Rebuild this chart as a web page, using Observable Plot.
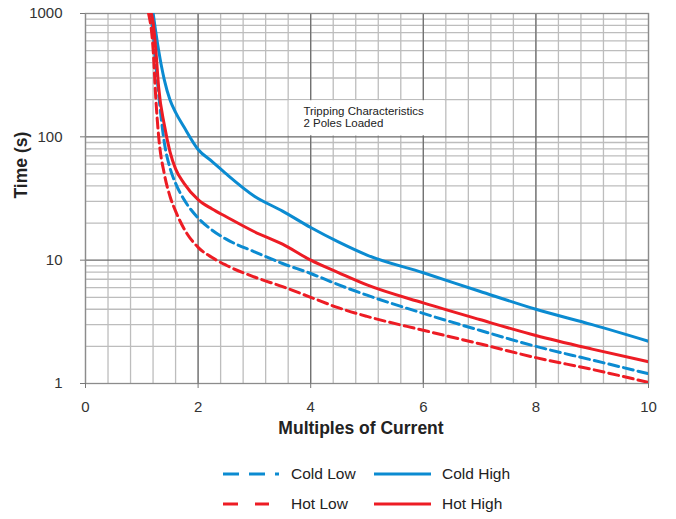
<!DOCTYPE html>
<html>
<head>
<meta charset="utf-8">
<script src="https://cdn.jsdelivr.net/npm/d3@7"></script>
<script src="https://cdn.jsdelivr.net/npm/@observablehq/plot@0.6"></script>
<style>
  body { margin: 0; background: #fff; }
  #wrap { width: 676px; height: 519px; position: relative; font-family: "Liberation Sans", Arial, sans-serif; }
</style>
</head>
<body>
<div id="wrap"></div>
<script>
// ---- data ----
const currents = [1.12, 1.2, 1.25, 1.3, 1.4, 1.5, 1.6, 1.75, 2, 2.25, 2.5, 3, 3.5, 4, 4.5, 5, 6, 7, 8, 9, 10];
const coldLow  = [1150, 700, 380, 220, 90, 56, 42, 31, 22, 17.5, 14.8, 11.7, 9.4, 7.8, 6.3, 5.2, 3.7, 2.7, 2.0, 1.55, 1.2];
const coldHigh = [2200, 1020, 700, 500, 290, 200, 158, 120, 79, 63, 50, 33, 25, 18.4, 14, 11, 7.9, 5.6, 4.0, 3.0, 2.2];
const hotLow   = [1000, 520, 200, 100, 50, 33, 25, 18, 12.7, 10.5, 9.1, 7.3, 6.1, 5.0, 4.1, 3.5, 2.7, 2.1, 1.62, 1.3, 1.02];
const hotHigh  = [1150, 850, 500, 250, 125, 76, 55, 42, 31, 26, 22.5, 17, 13.5, 10, 7.9, 6.3, 4.5, 3.3, 2.45, 1.9, 1.5];

const seriesNames = ["Cold Low", "Cold High", "Hot Low", "Hot High"];
const seriesValues = [coldLow, coldHigh, hotLow, hotHigh];
const seriesColors = ["#0b8bd1", "#0b8bd1", "#ed1c24", "#ed1c24"];
const seriesDash = ["10,5", null, "10,5", null];

const xTicks = [0, 2, 4, 6, 8, 10];
const yTicks = [1, 10, 100, 1000];
const xMinorGrid = d3.range(0, 10.001, 0.4).map(v => +v.toFixed(2));
const yMinorGrid = [1, 10, 100].flatMap(d => d3.range(2, 10).map(k => k * d));
const xMajorGrid = [2, 4, 6, 8];
const yMajorGrid = [10, 100, 1000];

const noteLines = "Tripping Characteristics\n2 Poles Loaded";
const noteBox = {x1: 3.6, x2: 6.4, y1: 100, y2: 200};
const noteAnchor = {x: 3.87, y: 144};

// ---- build table ----
const rows = [];
seriesNames.forEach((name, i) => {
  currents.forEach((c, j) => rows.push({series: name, current: c, time: seriesValues[i][j]}));
});

const lineMarks = seriesNames.map((name, i) =>
  Plot.line(rows.filter(r => r.series === name), {
    x: "current", y: "time",
    stroke: seriesColors[i], strokeWidth: 3,
    strokeDasharray: seriesDash[i] || undefined,
    curve: "monotone-x", clip: true
  })
);

const chart = Plot.plot({
  width: 676, height: 450,
  marginLeft: 85, marginRight: 28, marginTop: 13, marginBottom: 67,
  x: {domain: [0, 10]},
  y: {type: "log", domain: [1, 1000]},
  style: {fontFamily: "'Liberation Sans', Arial, sans-serif", fontSize: "15px", color: "#333", background: "white", overflow: "visible"},
  marks: [
    Plot.ruleX(xMinorGrid, {stroke: "#bdbdbd", strokeWidth: 1.3}),
    Plot.ruleY(yMinorGrid, {stroke: "#bdbdbd", strokeWidth: 1.3}),
    Plot.ruleX(xMajorGrid, {stroke: "#6a6a6a", strokeWidth: 1.2}),
    Plot.ruleY(yMajorGrid, {stroke: "#6a6a6a", strokeWidth: 1.2}),
    Plot.rect([noteBox], {x1: "x1", x2: "x2", y1: "y1", y2: "y2", fill: "white", inset: 1}),
    Plot.frame({stroke: "#8c8c8c", strokeWidth: 1.3}),
    Plot.text([noteLines], {x: noteAnchor.x, y: noteAnchor.y, text: d => d, textAnchor: "start", lineAnchor: "middle", fontSize: 11.5, lineHeight: 1.08, fill: "#222"}),
    ...lineMarks,
    Plot.axisY({ticks: yTicks, tickSize: 5, tickFormat: () => "", label: null, stroke: "#777"}),
    Plot.text(yTicks, {y: d => d, text: d => String(d), frameAnchor: "left", dx: -23, textAnchor: "end", fontSize: 15, fill: "#333"}),
    Plot.axisX({ticks: xTicks, tickSize: 5, tickPadding: 13, label: null, fontSize: 15, stroke: "#777"}),
    Plot.text(["Multiples of Current"], {frameAnchor: "bottom", dy: 50, dx: -6, fontWeight: "bold", fontSize: 17.5, fill: "#222"}),
    Plot.text(["Time (s)"], {frameAnchor: "left", rotate: -90, dx: -64, fontWeight: "bold", fontSize: 17.5, fill: "#222"})
  ]
});
document.getElementById("wrap").appendChild(chart);

// ---- legend (below the chart) ----
const legendItems = [
  {name: seriesNames[0], color: seriesColors[0], dash: "16,10", x1: 223, x2: 279, tx: 291, y: 24},
  {name: seriesNames[1], color: seriesColors[1], dash: null, x1: 374, x2: 431, tx: 442, y: 24},
  {name: seriesNames[2], color: seriesColors[2], dash: "15,17", x1: 223, x2: 269, tx: 291, y: 54},
  {name: seriesNames[3], color: seriesColors[3], dash: null, x1: 374, x2: 431, tx: 442, y: 54}
];
const leg = d3.select("#wrap").append("svg").attr("width", 676).attr("height", 69).style("display", "block");
legendItems.forEach(it => {
  const l = leg.append("line").attr("x1", it.x1).attr("x2", it.x2).attr("y1", it.y).attr("y2", it.y)
    .attr("stroke", it.color).attr("stroke-width", 3);
  if (it.dash) l.attr("stroke-dasharray", it.dash);
  leg.append("text").attr("x", it.tx).attr("y", it.y).attr("dy", "0.35em")
    .attr("font-size", 15.5).attr("fill", "#222")
    .attr("font-family", "'Liberation Sans', Arial, sans-serif").text(it.name);
});
</script>
</body>
</html>
